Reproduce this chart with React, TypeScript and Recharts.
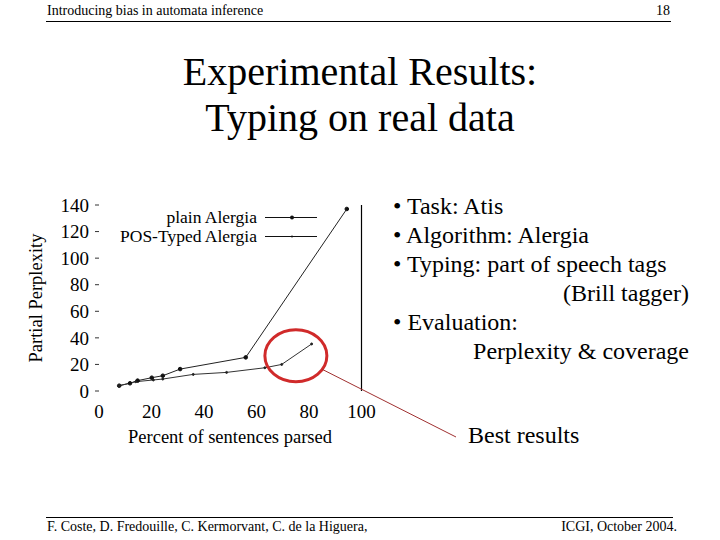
import React from 'react';
import {
  LineChart,
  Line,
  XAxis,
  YAxis,
  ReferenceLine,
  ReferenceDot,
} from 'recharts';

const xTicks = [0, 20, 40, 60, 80, 100];
const yTicks = [0, 20, 40, 60, 80, 100, 120, 140];

const plainX = [7.7, 11.8, 14.7, 20.1, 24.3, 30.9, 55.9, 94.4];
const plainY = [4.0, 5.8, 7.8, 10.0, 11.5, 16.5, 25.3, 137];

const posX = [7.7, 14.0, 20.7, 24.3, 35.9, 48.6, 63.2, 69.6, 81.0];
const posY = [4.0, 7.0, 8.3, 9.0, 12.5, 14.0, 17.5, 20.0, 35.4];

const seriesNames = ['plain Alergia', 'POS-Typed Alergia'];

const bullets = [
  '• Task: Atis',
  '• Algorithm: Alergia',
  '• Typing: part of speech tags',
];

const plainData = plainX.map((x, i) => ({ x, y: plainY[i] }));
const posData = posX.map((x, i) => ({ x, y: posY[i] }));

const serif = '"Liberation Serif", "Times New Roman", Times, serif';

// legend drawn as plain html so the chart does not reserve space for it
function LegendBox() {
  const dots = [2, 1];
  return (
    <div
      style={{
        position: 'absolute',
        left: 92,
        top: 208,
        fontFamily: serif,
        fontSize: 17.5,
        lineHeight: '19px',
      }}
    >
      {seriesNames.map((name, i) => (
        <div key={name} style={{ display: 'flex', alignItems: 'center', height: 19 }}>
          <span style={{ width: 165, textAlign: 'right', whiteSpace: 'nowrap' }}>{name}</span>
          <svg width={60} height={19} style={{ marginLeft: 8 }}>
            <line x1={0} y1={9.5} x2={52} y2={9.5} stroke="#111" strokeWidth={1} />
            <circle cx={27} cy={9.5} r={dots[i]} fill="#111" />
          </svg>
        </div>
      ))}
    </div>
  );
}

function BestCircle(props: any) {
  const { cx, cy } = props;
  const rx = 31;
  const ry = 26;
  const a = 0.55;
  return (
    <g>
      <ellipse cx={cx} cy={cy} rx={rx} ry={ry} fill="none" stroke="#d02a2a" strokeWidth={3} />
      <line
        x1={cx + rx * Math.cos(a)}
        y1={cy + ry * Math.sin(a)}
        x2={456}
        y2={437}
        stroke="#a03030"
        strokeWidth={1}
      />
    </g>
  );
}

export default function App() {
  return (
    <div
      style={{
        position: 'absolute',
        left: 0,
        top: 0,
        width: 720,
        height: 540,
        background: '#fff',
        fontFamily: serif,
        color: '#000',
        overflow: 'hidden',
      }}
    >
      <div style={{ position: 'absolute', left: 47, top: 3, fontSize: 14 }}>
        Introducing bias in automata inference
      </div>
      <div style={{ position: 'absolute', right: 50, top: 3, fontSize: 14 }}>18</div>
      <div style={{ position: 'absolute', left: 46, top: 21, width: 625, height: 1, background: '#000' }} />

      <div
        style={{
          position: 'absolute',
          left: 0,
          top: 49,
          width: 720,
          textAlign: 'center',
          fontSize: 40,
          lineHeight: '46px',
        }}
      >
        Experimental Results:
        <br />
        Typing on real data
      </div>

      <div style={{ position: 'absolute', left: 0, top: 0 }}>
        <LineChart
          width={720}
          height={540}
          margin={{ top: 205, right: 358.5, bottom: 119, left: 39 }}
        >
          <XAxis
            type="number"
            dataKey="x"
            domain={[0, 100]}
            ticks={xTicks}
            interval={0}
            allowDuplicatedCategory={false}
            axisLine={false}
            tickLine={false}
            tickMargin={8}
            height={30}
            tick={{ fill: '#000', fontSize: 19, fontFamily: serif }}
          />
          <YAxis
            type="number"
            domain={[0, 140]}
            ticks={yTicks}
            interval={0}
            width={60}
            axisLine={false}
            tickLine={{ stroke: '#333' }}
            tickSize={4}
            tickMargin={6}
            tick={{ fill: '#000', fontSize: 19, fontFamily: serif }}
          />
          <ReferenceLine x={100} stroke="#000" strokeWidth={1.2} />
          <Line
            data={plainData}
            dataKey="y"
            name={seriesNames[0]}
            type="linear"
            stroke="#222"
            strokeWidth={1}
            dot={{ r: 1.8, fill: '#111', stroke: '#111' }}
            isAnimationActive={false}
          />
          <Line
            data={posData}
            dataKey="y"
            name={seriesNames[1]}
            type="linear"
            stroke="#333"
            strokeWidth={1}
            dot={{ r: 1, fill: '#222', stroke: '#222' }}
            isAnimationActive={false}
          />
          <ReferenceDot x={75} y={26.5} shape={<BestCircle />} />
        </LineChart>
      </div>

      <LegendBox />

      <div
        style={{
          position: 'absolute',
          left: 36,
          top: 298,
          transform: 'translate(-50%, -50%) rotate(-90deg)',
          fontSize: 18.5,
          whiteSpace: 'nowrap',
        }}
      >
        Partial Perplexity
      </div>
      <div
        style={{
          position: 'absolute',
          left: 230,
          top: 437,
          transform: 'translate(-50%, -50%)',
          fontSize: 18.5,
          whiteSpace: 'nowrap',
        }}
      >
        Percent of sentences parsed
      </div>

      <div style={{ position: 'absolute', left: 393, top: 192, fontSize: 24, lineHeight: '29px', width: 296 }}>
        {bullets.map((b) => (
          <div key={b} style={{ whiteSpace: 'nowrap' }}>{b}</div>
        ))}
        <div style={{ textAlign: 'right' }}>(Brill tagger)</div>
        <div>• Evaluation:</div>
        <div style={{ textAlign: 'right' }}>Perplexity &amp; coverage</div>
      </div>

      <div style={{ position: 'absolute', left: 468, top: 422, fontSize: 24 }}>Best results</div>

      <div style={{ position: 'absolute', left: 46, top: 517, width: 627, height: 1, background: '#000' }} />
      <div style={{ position: 'absolute', left: 47, top: 519, fontSize: 14 }}>
        F. Coste, D. Fredouille, C. Kermorvant, C. de la Higuera,
      </div>
      <div style={{ position: 'absolute', right: 43, top: 519, fontSize: 14 }}>ICGI, October 2004.</div>
    </div>
  );
}
